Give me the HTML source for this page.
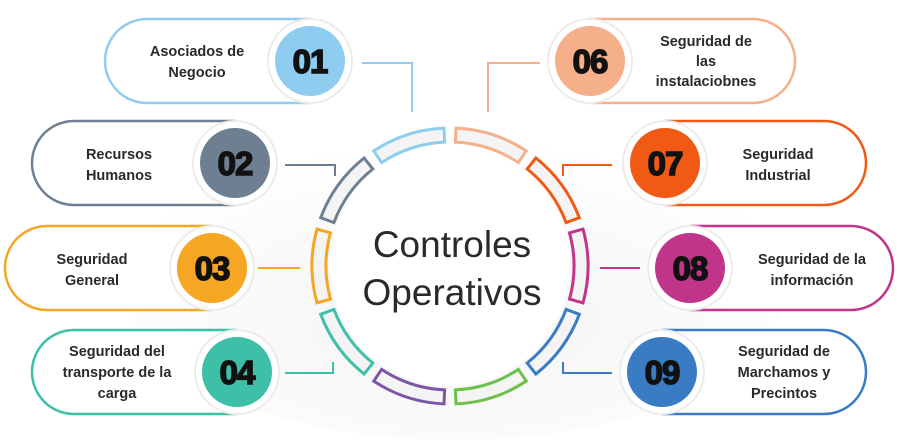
<!DOCTYPE html>
<html><head><meta charset="utf-8"><style>
html,body{margin:0;padding:0;background:#fff;width:916px;height:442px;overflow:hidden;}
svg{display:block;overflow:hidden;}
.t{font-family:"Liberation Sans",sans-serif;font-weight:bold;font-size:14.5px;fill:#2a2a2a;text-anchor:middle;}
.n{font-family:"Liberation Sans",sans-serif;font-weight:900;font-size:33px;fill:#111;stroke:#111;stroke-width:1.5;text-anchor:middle;letter-spacing:-1px;}
</style></head><body>
<svg width="916" height="442" viewBox="0 0 916 442" xmlns="http://www.w3.org/2000/svg">
<defs>
<radialGradient id="bg" cx="50%" cy="60%" r="60%"><stop offset="0" stop-color="#f3f3f3"/><stop offset="1" stop-color="#fff"/></radialGradient>
</defs>
<ellipse cx="455" cy="290" rx="330" ry="150" fill="url(#bg)"/>

<g fill="none" stroke-width="2">
<path d="M362 63H412V112" stroke="#8ecdf0"/>
<path d="M285 165H335V176" stroke="#6e7f91"/>
<path d="M258 268H300" stroke="#f5a623"/>
<path d="M285 373H333V362" stroke="#3dbfa8"/>
<path d="M488 112V63H540" stroke="#f5b08a"/>
<path d="M563 176V165H612" stroke="#f05a14"/>
<path d="M600 268H640" stroke="#c0358a"/>
<path d="M563 362V373H612" stroke="#3a7cc4"/>
</g>

<circle cx="450" cy="266" r="120" fill="#fff"/>
<g id="ring" fill="#f4f4f4" stroke-width="3"></g>
<script>
(function(){
var cols=["#f5b08a","#f05a14","#c0358a","#3a7cc4","#6cc04a","#7a55a8","#3dbfa8","#f5a623","#6e7f91","#8ecdf0"];
var g=document.getElementById("ring"),cx=450,cy=266,R=138,r=124,ns="http://www.w3.org/2000/svg";
function p(a,rad){var t=(a-90)*Math.PI/180;return (cx+rad*Math.cos(t)).toFixed(1)+" "+(cy+rad*Math.sin(t)).toFixed(1);}
for(var i=0;i<10;i++){var a0=i*36+2.5,a1=i*36+33.5;
var d="M"+p(a0,R)+" A"+R+" "+R+" 0 0 1 "+p(a1,R)+" L"+p(a1,r)+" A"+r+" "+r+" 0 0 0 "+p(a0,r)+" Z";
var e=document.createElementNS(ns,"path");e.setAttribute("d",d);e.setAttribute("stroke",cols[i]);g.appendChild(e);}
})();
</script>
<text x="452" y="257" font-family="Liberation Sans,sans-serif" font-size="37" fill="#2a2a2a" text-anchor="middle">Controles</text>
<text x="452" y="305" font-family="Liberation Sans,sans-serif" font-size="37" fill="#2a2a2a" text-anchor="middle">Operativos</text>

<g fill="#fff" stroke-width="2.5">
<path d="M310 19H147A42 42 0 0 0 147 103H310" stroke="#8ecdf0"/>
<path d="M235 121H74A42 42 0 0 0 74 205H235" stroke="#6e7f91"/>
<path d="M212 226H47A42 42 0 0 0 47 310H212" stroke="#f5a623"/>
<path d="M237 330H74A42 42 0 0 0 74 414H237" stroke="#3dbfa8"/>
<path d="M590 19H753A42 42 0 0 1 753 103H590" stroke="#f5b08a"/>
<path d="M665 121H824A42 42 0 0 1 824 205H665" stroke="#f05a14"/>
<path d="M690 226H851A42 42 0 0 1 851 310H690" stroke="#c0358a"/>
<path d="M662 330H824A42 42 0 0 1 824 414H662" stroke="#3a7cc4"/>
</g>
<g>
<circle cx="310" cy="61" r="42" fill="#fff" stroke="#ececec" stroke-width="2"/><circle cx="310" cy="61" r="35" fill="#8ecdf0"/>
<circle cx="235" cy="163" r="42" fill="#fff" stroke="#ececec" stroke-width="2"/><circle cx="235" cy="163" r="35" fill="#6e7f91"/>
<circle cx="212" cy="268" r="42" fill="#fff" stroke="#ececec" stroke-width="2"/><circle cx="212" cy="268" r="35" fill="#f5a623"/>
<circle cx="237" cy="372" r="42" fill="#fff" stroke="#ececec" stroke-width="2"/><circle cx="237" cy="372" r="35" fill="#3dbfa8"/>
<circle cx="590" cy="61" r="42" fill="#fff" stroke="#ececec" stroke-width="2"/><circle cx="590" cy="61" r="35" fill="#f5b08a"/>
<circle cx="665" cy="163" r="42" fill="#fff" stroke="#ececec" stroke-width="2"/><circle cx="665" cy="163" r="35" fill="#f05a14"/>
<circle cx="690" cy="268" r="42" fill="#fff" stroke="#ececec" stroke-width="2"/><circle cx="690" cy="268" r="35" fill="#c0358a"/>
<circle cx="662" cy="372" r="42" fill="#fff" stroke="#ececec" stroke-width="2"/><circle cx="662" cy="372" r="35" fill="#3a7cc4"/>
</g>
<g>
<text class="n" x="310" y="73">01</text>
<text class="n" x="235" y="175">02</text>
<text class="n" x="212" y="280">03</text>
<text class="n" x="237" y="384">04</text>
<text class="n" x="590" y="73">06</text>
<text class="n" x="665" y="175">07</text>
<text class="n" x="690" y="280">08</text>
<text class="n" x="662" y="384">09</text>
</g>
<g>
<text class="t" x="197" y="56">Asociados de</text><text class="t" x="197" y="77">Negocio</text>
<text class="t" x="119" y="159">Recursos</text><text class="t" x="119" y="180">Humanos</text>
<text class="t" x="92" y="264">Seguridad</text><text class="t" x="92" y="285">General</text>
<text class="t" x="117" y="356">Seguridad del</text><text class="t" x="117" y="377">transporte de la</text><text class="t" x="117" y="398">carga</text>
<text class="t" x="706" y="46">Seguridad de</text><text class="t" x="706" y="66">las</text><text class="t" x="706" y="86">instalaciobnes</text>
<text class="t" x="778" y="159">Seguridad</text><text class="t" x="778" y="180">Industrial</text>
<text class="t" x="812" y="264">Seguridad de la</text><text class="t" x="812" y="285">información</text>
<text class="t" x="784" y="356">Seguridad de</text><text class="t" x="784" y="377">Marchamos y</text><text class="t" x="784" y="398">Precintos</text>
</g>
</svg>
</body></html>
